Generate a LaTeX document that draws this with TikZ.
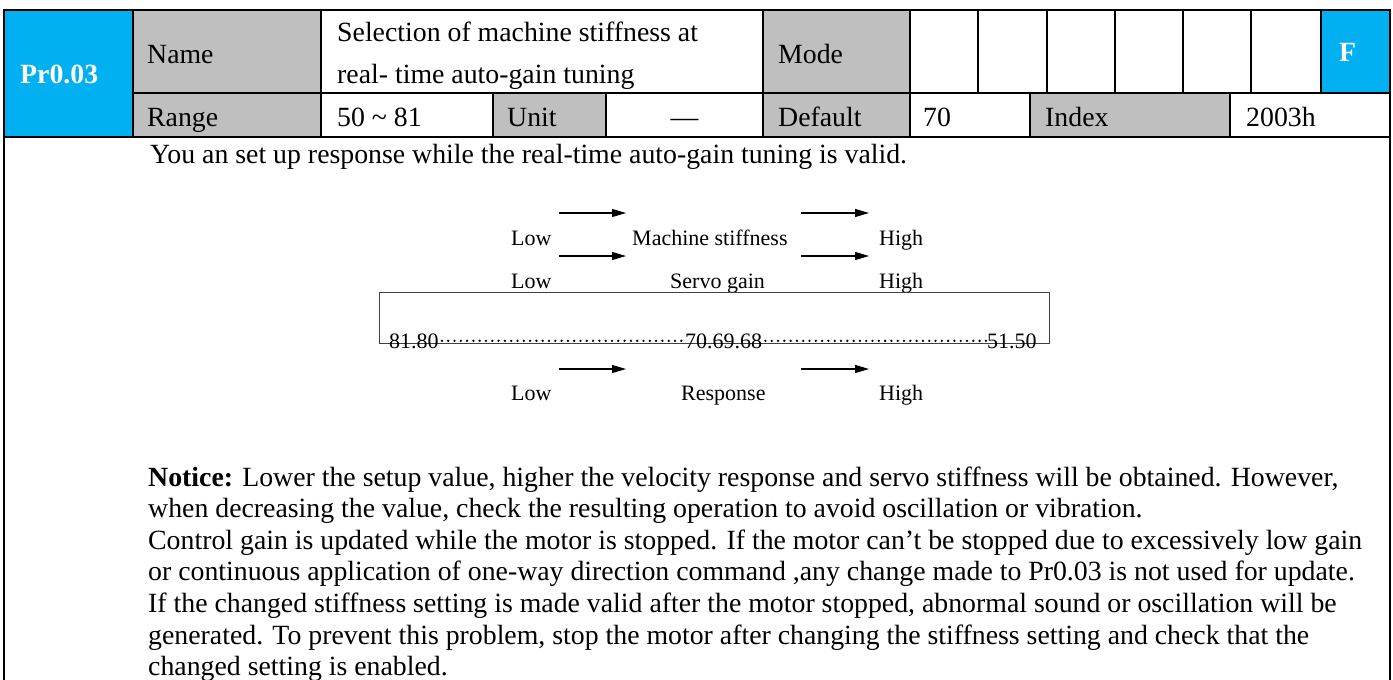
\documentclass[tikz,border=0pt]{standalone}
\usepackage{fontspec}
\setmainfont{Liberation Serif}
\usetikzlibrary{calc,arrows.meta}
\definecolor{parcyan}{HTML}{00B0F0}
\definecolor{pargray}{HTML}{BFBFBF}
\newcommand{\bodyfont}{\fontsize{27.8pt}{31.6pt}\selectfont}
\newcommand{\smallfont}{\fontsize{22pt}{26pt}\selectfont}
% one row of the stiffness scale: name, arrow y, text baseline, middle x, middle text
\newcommand{\makescale}[5]{
	\coordinate (LA#1) at (559,#2);
	\coordinate (LB#1) at (626,#2);
	\coordinate (RA#1) at (801,#2);
	\coordinate (RB#1) at (869,#2);
	\draw[arr] (LA#1) -- (LB#1);
	\draw[arr] (RA#1) -- (RB#1);
	\node[lbl] (low#1) at (511,#3) {Low};
	\node[lbl] (mid#1) at (#4,#3) {#5};
	\node[lbl] (high#1) at (879,#3) {High};
}

\begin{document}
\begin{tikzpicture}[x=1pt,y=-1pt,
	txt/.style={anchor=base west,inner sep=0pt,font=\bodyfont},
	lbl/.style={anchor=base west,inner sep=0pt,font=\smallfont},
	arr/.style={-{Triangle[length=14pt,width=8pt]},line width=1.1pt},
	grid/.style={line width=1.6pt},
	frame/.style={line width=2.6pt},
	dots/.style={line width=2.6pt,line cap=round,dash pattern=on 0pt off 6.3pt,shorten <=3pt}]
	\useasboundingbox (0,0) rectangle (1393,680);
	% cell fills
	\fill[parcyan] (4,10) rectangle (133,137);
	\fill[parcyan] (1321,10) rectangle (1390,93);
	\fill[pargray] (133,10) rectangle (321,137);
	\fill[pargray] (763,10) rectangle (910,137);
	\fill[pargray] (493,93) rectangle (606,137);
	\fill[pargray] (1030,93) rectangle (1230,137);
	% table lines
	\draw[grid] (133,93) -- (1390,93);
	\draw[grid] (133,10) -- (133,137);
	\draw[grid] (321,10) -- (321,137);
	\draw[grid] (763,10) -- (763,137);
	\draw[grid] (910,10) -- (910,137);
	\foreach \cx in {978,1047,1115,1183,1251,1321}
		\draw[grid] (\cx,10) -- (\cx,93);
	\foreach \cx in {493,606,1030,1230}
		\draw[grid] (\cx,93) -- (\cx,137);
	\draw[line width=2.2pt] (4,137) -- (1390,137);
	\draw[frame] (4,690) -- (4,10) -- (1390,10) -- (1390,690);
	% table texts
	\node[txt,text=white,font=\bodyfont\bfseries] (par) at (20,83) {Pr0.03};
	\node[txt] (name) at (147,63) {Name};
	\node[txt] (sel1) at (337,41) {Selection of machine stiffness at};
	\node[txt] (sel2) at ($(sel1.base west)+(0,42)$) {real- time auto-gain tuning};
	\node[txt] (mode) at (778,63) {Mode};
	\node[txt,text=white,font=\bodyfont\bfseries] (F) at (1339,61) {F};
	\node[txt] (range) at (147,126) {Range};
	\node[txt] (rval) at (337,126) {50 \textasciitilde{} 81};
	\node[txt] (unit) at (507,126) {Unit};
	\node[txt,anchor=base] (uval) at (684.5,126) {—};
	\node[txt] (default) at (778,126) {Default};
	\node[txt] (dval) at (923,126) {70};
	\node[txt] (index) at (1045,126) {Index};
	\node[txt] (ival) at (1246,126) {2003h};
	% body
	\node[txt] (intro) at (150,163) {You an set up response while the real-time auto-gain tuning is valid.};
	\makescale{a}{213}{245}{632}{Machine stiffness}
	\makescale{b}{256}{288}{670}{Servo gain}
	\node[draw=black!75,line width=1.1pt,minimum width=670pt,minimum height=51pt,anchor=north west,inner sep=0pt] (gainbox) at (379,292) {};
	\node[lbl] (v81) at (389,348) {81.80};
	\node[lbl] (v70) at (685,348) {70.69.68};
	\node[lbl] (v51) at (987,348) {51.50};
	\draw[dots] (v81.east) -- (v70.west);
	\draw[dots] (v70.east) -- (v51.west);
	\makescale{c}{369}{400}{681}{Response}
	\node[txt] (N1) at (148,486) {\textbf{Notice:} Lower the setup value, higher the velocity response and servo stiffness will be obtained. However,};
	\node[txt] (N2) at ($(N1.base west)+(0,31.6)$) {when decreasing the value, check the resulting operation to avoid oscillation or vibration.};
	\node[txt] (N3) at ($(N2.base west)+(0,31.6)$) {Control gain is updated while the motor is stopped. If the motor can’t be stopped due to excessively low gain};
	\node[txt] (N4) at ($(N3.base west)+(0,31.6)$) {or continuous application of one-way direction command ,any change made to Pr0.03 is not used for update.};
	\node[txt] (N5) at ($(N4.base west)+(0,31.6)$) {If the changed stiffness setting is made valid after the motor stopped, abnormal sound or oscillation will be};
	\node[txt] (N6) at ($(N5.base west)+(0,31.6)$) {generated. To prevent this problem, stop the motor after changing the stiffness setting and check that the};
	\node[txt] (N7) at ($(N6.base west)+(0,31.6)$) {changed setting is enabled.};
\end{tikzpicture}
\end{document}
